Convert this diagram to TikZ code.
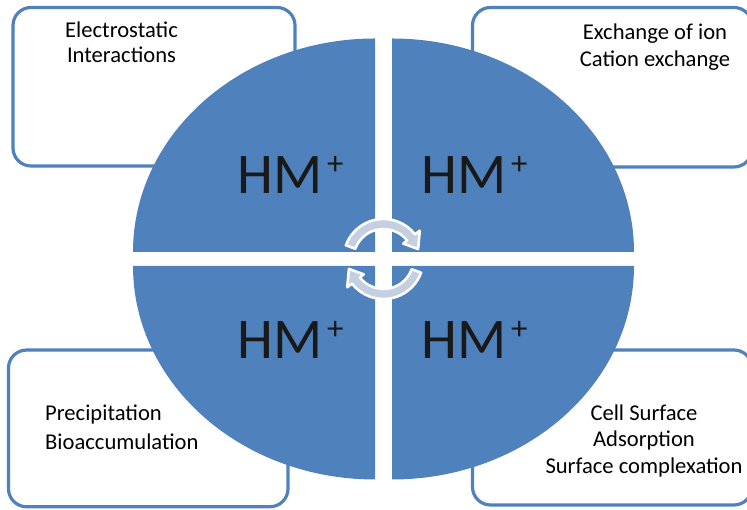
\documentclass[tikz,border=0pt]{standalone}
\usepackage{fontspec}
\setmainfont{Carlito}
\definecolor{hmblue}{RGB}{79,129,189}
\definecolor{cyclefill}{RGB}{196,207,225}
\newcommand{\hmlabel}{HM\kern4.5pt\raisebox{19.5pt}{\fontsize{33}{33}\selectfont+}}
\begin{document}
\begin{tikzpicture}[x=1pt,y=1pt,
  infobox/.style={draw=hmblue, line width=3.2pt, rounded corners=18pt, fill=white, inner sep=0pt},
  quarter/.style={fill=hmblue},
  hmtext/.style={anchor=base west, inner sep=0pt, font=\fontsize{57.5}{60}\selectfont, text=black!90},
  cycle arrow/.style={fill=cyclefill, draw=white, line width=2.6pt, line join=round},
]
\useasboundingbox (0,0) rectangle (747,510);
\clip (0,0) rectangle (747,510);

% mechanism boxes behind the disc
\node[infobox, minimum width=282pt, minimum height=158.5pt] (boxTL) at (154,423.25) {};
\node[infobox, minimum width=279.5pt, minimum height=159.5pt] (boxTR) at (612.25,422.75) {};
\node[infobox, minimum width=279.5pt, minimum height=156.7pt] (boxBL) at (148.25,81.6) {};
\node[infobox, minimum width=279.5pt, minimum height=155pt] (boxBR) at (612.25,82.5) {};

% four exploded quarters of the disc
\fill[quarter] (375,258) -- ++(-242,0) arc[start angle=180, end angle=90, x radius=242, y radius=213.5] -- cycle;
\fill[quarter] (392,258) -- ++(0,213.5) arc[start angle=90, end angle=0, x radius=242, y radius=213.5] -- cycle;
\fill[quarter] (375,244) -- ++(-242,0) arc[start angle=180, end angle=270, x radius=242, y radius=213.5] -- cycle;
\fill[quarter] (392,244) -- ++(242,0) arc[start angle=0, end angle=-90, x radius=242, y radius=213.5] -- cycle;

% metal ion labels
\node[hmtext] (hmTL) at (237.5,316) {\hmlabel};
\node[hmtext] (hmTR) at (421.5,316) {\hmlabel};
\node[hmtext] (hmBL) at (237.5,151) {\hmlabel};
\node[hmtext] (hmBR) at (421.5,151) {\hmlabel};

% circular arrows in the middle
\begin{scope}[shift={(383.5,251)}]
  \draw[cycle arrow] (160:40) arc[start angle=160, end angle=38, radius=40]
    -- (38:46) -- (16:36) -- (38:25) -- (38:30)
    arc[start angle=38, end angle=160, radius=30] -- cycle;
\end{scope}
\begin{scope}[shift={(383.5,251)}, rotate=180]
  \draw[cycle arrow] (160:40) arc[start angle=160, end angle=38, radius=40]
    -- (38:46) -- (16:36) -- (38:25) -- (38:30)
    arc[start angle=38, end angle=160, radius=30] -- cycle;
\end{scope}

% box texts
\node[anchor=north, align=center, inner sep=0pt, font=\fontsize{22.6}{25}\selectfont] (txtTL)
  at (121.5,490.0) {\strut Electrostatic\\Interactions};
\node[anchor=north, align=center, inner sep=0pt, font=\fontsize{22.6}{27.4}\selectfont] (txtTR)
  at (655,489.9) {\strut Exchange of ion\\Cation exchange};
\node[anchor=north west, align=left, inner sep=0pt, font=\fontsize{22.6}{28.3}\selectfont] (txtBL)
  at (45,109.1) {\strut Precipitation\\Bioaccumulation};
\node[anchor=north, align=center, inner sep=0pt, font=\fontsize{22.6}{26.6}\selectfont] (txtBR)
  at (644,108.6) {\strut Cell Surface\\Adsorption\\Surface complexation};
\end{tikzpicture}
\end{document}
